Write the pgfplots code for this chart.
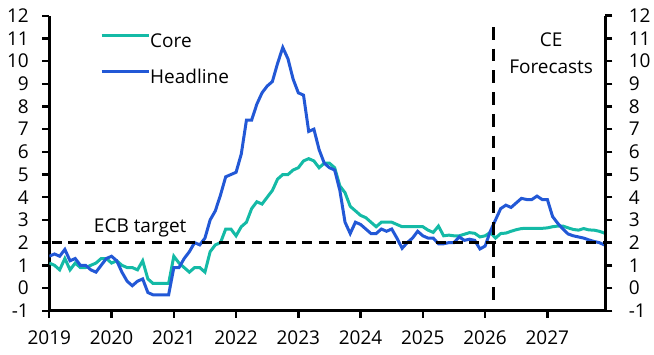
\documentclass[border=0pt]{standalone}
\usepackage{fontspec}
\setmainfont{Open Sans}
\usepackage{pgfplots}
\usepackage{pgfplotstable}
\pgfplotsset{compat=1.18}

\definecolor{corecol}{RGB}{20,186,166}
\definecolor{headcol}{RGB}{34,88,214}

% Monthly y/y inflation, Jan 2019 - Dec 2027 (forecasts from early 2026)
\pgfplotstableread{
head core
1.4 1.1
1.5 1.0
1.4 0.8
1.7 1.3
1.2 0.8
1.3 1.1
1.0 0.9
1.0 0.9
0.8 1.0
0.7 1.1
1.0 1.3
1.3 1.3
1.4 1.1
1.2 1.2
0.7 1.0
0.3 0.9
0.1 0.9
0.3 0.8
0.4 1.2
-0.2 0.4
-0.3 0.2
-0.3 0.2
-0.3 0.2
-0.3 0.2
0.9 1.4
0.9 1.1
1.3 0.9
1.6 0.7
2.0 0.9
1.9 0.9
2.2 0.7
3.0 1.6
3.4 1.9
4.1 2.0
4.9 2.6
5.0 2.6
5.1 2.3
5.9 2.7
7.4 2.9
7.4 3.5
8.1 3.8
8.6 3.7
8.9 4.0
9.1 4.3
9.9 4.8
10.6 5.0
10.1 5.0
9.2 5.2
8.6 5.3
8.5 5.6
6.9 5.7
7.0 5.6
6.1 5.3
5.5 5.5
5.3 5.5
5.2 5.3
4.3 4.5
2.9 4.2
2.4 3.6
2.9 3.4
2.8 3.2
2.6 3.1
2.4 2.9
2.4 2.7
2.6 2.9
2.5 2.9
2.6 2.9
2.2 2.8
1.75 2.7
2.0 2.7
2.2 2.7
2.5 2.7
2.3 2.7
2.2 2.55
2.2 2.45
1.95 2.73
1.95 2.3
2.0 2.33
2.0 2.3
2.25 2.3
2.1 2.37
2.15 2.44
2.1 2.41
1.72 2.25
1.85 2.3
2.5 2.45
3.0 2.2
3.5 2.4
3.65 2.42
3.55 2.5
3.75 2.57
3.95 2.62
3.9 2.63
3.9 2.63
4.05 2.63
3.9 2.63
3.9 2.65
3.15 2.7
2.85 2.73
2.6 2.73
2.38 2.65
2.3 2.58
2.25 2.55
2.2 2.62
2.12 2.56
2.05 2.55
2.0 2.5
1.9 2.42
}\inflation

\pgfplotsset{
  common/.style={
    at={(0pt,0pt)}, anchor=south west,
    scale only axis, width=556pt, height=295pt,
    xmin=2019, xmax=2027.93, ymin=-1, ymax=12,
    ytick={-1,0,...,12},
    axis line style={line width=2.6pt, black},
    tick align=outside, major tick length=7pt,
    every tick/.style={black, line width=2.4pt},
    tick label style={font=\fontsize{19}{22}\selectfont},
    /pgf/number format/assume math mode=true,
  }
}

\begin{document}
\begin{tikzpicture}
\path[use as bounding box] (-49.3pt,-43.3pt) rectangle (604.7pt,310.7pt);

\begin{axis}[common,
  axis x line*=bottom, axis y line*=left,
  xtick={2019,...,2027},
  xticklabel style={/pgf/number format/1000 sep={}, yshift=-9pt},
  yticklabel style={xshift=-10pt},
  legend style={at={(axis cs:2019.814,11.24)}, anchor=north west,
    draw=none, fill=none, inner sep=0pt, row sep=18pt,
    font=\fontsize{19}{22}\selectfont,
    nodes={inner sep=0pt, text height=14pt, text depth=4pt},
    /tikz/every even column/.style={column sep=6pt}},
  legend cell align=left,
  legend image code/.code={\draw[#1] (0pt,6.5pt) -- (47pt,6.5pt);},
]
\addplot[corecol, line width=3pt] table[x expr=2019+\coordindex/12, y=core] {\inflation};
\addlegendentry{Core}
\addplot[headcol, line width=3pt] table[x expr=2019+\coordindex/12, y=head] {\inflation};
\addlegendentry{Headline}

% ECB target and forecast boundary
\addplot[black, line width=2.6pt, dash pattern=on 10pt off 6.7pt, forget plot]
  coordinates {(2019.04,2) (2027.93,2)};
\addplot[black, line width=2.6pt, dash pattern=on 12.7pt off 9pt, forget plot]
  coordinates {(2026.13,11.5) (2026.13,-1)};

\node[font=\fontsize{19}{22}\selectfont] at (axis cs:2020.46,2.64) {ECB target};
\node[font=\fontsize{19}{22}\selectfont] at (axis cs:2027.06,10.92) {CE};
\node[font=\fontsize{19}{22}\selectfont] at (axis cs:2027.06,9.74) {Forecasts};
\end{axis}

\begin{axis}[common,
  axis x line=none, axis y line*=right,
  yticklabel style={xshift=13pt},
]
\end{axis}
\end{tikzpicture}
\end{document}
